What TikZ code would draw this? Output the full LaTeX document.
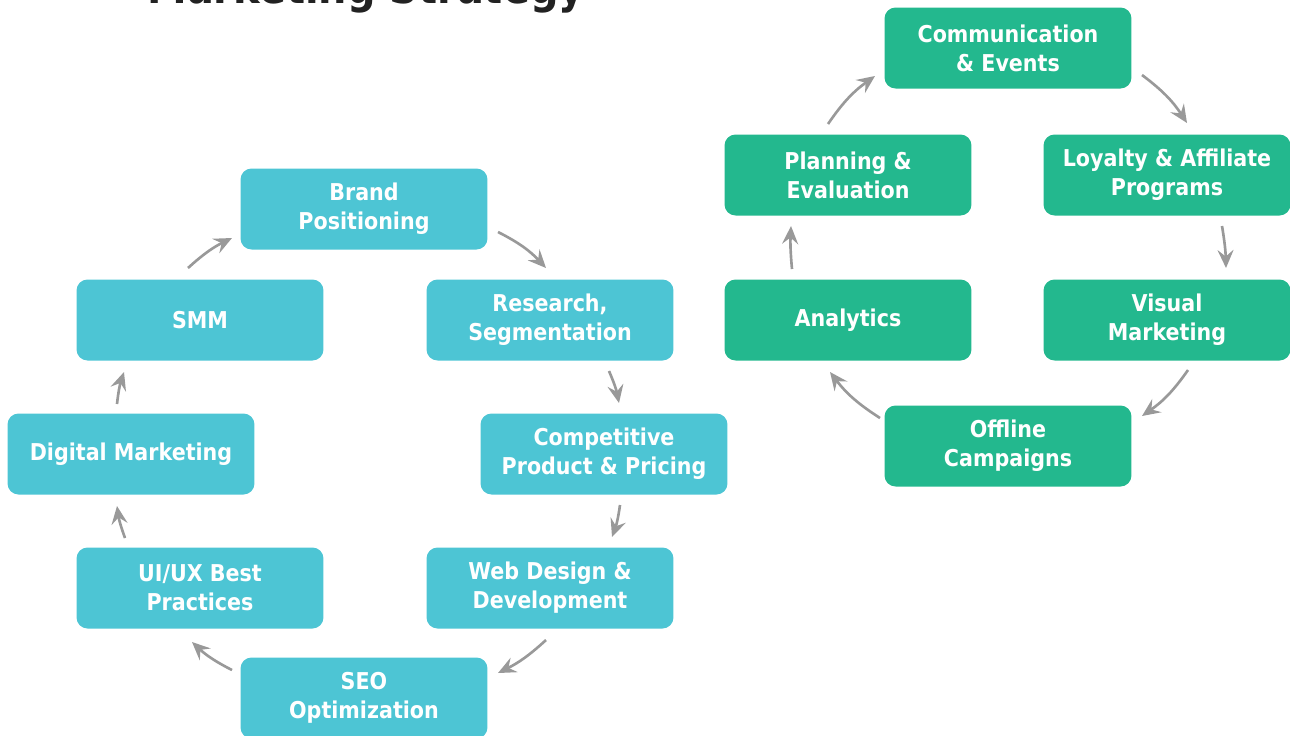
\documentclass[tikz,border=0pt]{standalone}
\usepackage{fontspec}
\setmainfont{DejaVu Sans}[FakeStretch=0.89]
\usetikzlibrary{arrows.meta}
\definecolor{channelcyan}{RGB}{77,197,212}
\definecolor{campaigngreen}{RGB}{35,184,142}
\definecolor{arrowgray}{RGB}{153,153,153}
\definecolor{titlegray}{RGB}{34,34,34}
\tikzset{
    channel/.style={rectangle, rounded corners=2.2mm, fill=channelcyan, text=white, minimum width=4.94cm, minimum height=1.62cm, align=center, font=\fontsize{13.2}{16.5}\selectfont\bfseries},
    campaign/.style={channel, fill=campaigngreen},
    arrow/.style={-{Stealth[length=3.6mm, width=3.2mm, inset=1.3mm]}, line width=1.5pt, arrowgray},
}

\begin{document}
\begin{tikzpicture}[x=0.02cm, y=-0.02cm]
    \useasboundingbox (0,0) rectangle (1290,735);
    \node[anchor=base, text=titlegray, font=\fontsize{25.5}{30}\selectfont\bfseries] (title) at (366,3) {Marketing Strategy};

    % left loop
    \node[channel] (brand) at (364,209) {Brand\\Positioning};
    \node[channel] (smm) at (200,320) {SMM};
    \node[channel] (research) at (550,320) {Research,\\Segmentation};
    \node[channel] (digital) at (131,454) {Digital Marketing};
    \node[channel] (competitive) at (604,454) {Competitive\\Product \& Pricing};
    \node[channel] (uiux) at (200,588) {UI/UX Best\\Practices};
    \node[channel] (web) at (550,588) {Web Design \&\\Development};
    \node[channel] (seo) at (364,698) {SEO\\Optimization};

    \draw[arrow] ([shift={(-12,-52)}]smm.center) to[bend left=8] ([shift={(-132,29)}]brand.center);
    \draw[arrow] ([shift={(134,23)}]brand.center) to[bend left=10] ([shift={(-4,-52)}]research.center);
    \draw[arrow] ([shift={(59,51)}]research.center) to[bend left=6] ([shift={(15,-51)}]competitive.center);
    \draw[arrow] ([shift={(16,51)}]competitive.center) to[bend left=6] ([shift={(62,-51)}]web.center);
    \draw[arrow] ([shift={(-4,52)}]web.center) to[bend left=8] ([shift={(134,-25)}]seo.center);
    \draw[arrow] ([shift={(-132,-28)}]seo.center) to[bend left=8] ([shift={(-8,54)}]uiux.center);
    \draw[arrow] ([shift={(-75,-50)}]uiux.center) to[bend left=6] ([shift={(-14,52)}]digital.center);
    \draw[arrow] ([shift={(-14,-50)}]digital.center) to[bend left=6] ([shift={(-76,52)}]smm.center);

    % right loop
    \node[campaign] (comm) at (1008,48) {Communication\\\& Events};
    \node[campaign] (planning) at (848,175) {Planning \&\\Evaluation};
    \node[campaign] (loyalty) at (1167,175) {Loyalty \& Affiliate\\Programs};
    \node[campaign] (analytics) at (848,320) {Analytics};
    \node[campaign] (visual) at (1167,320) {Visual\\Marketing};
    \node[campaign] (offline) at (1008,446) {Offline\\Campaigns};

    \draw[arrow] ([shift={(-20,-51)}]planning.center) to[bend left=10] ([shift={(-133,28)}]comm.center);
    \draw[arrow] ([shift={(134,27)}]comm.center) to[bend left=10] ([shift={(20,-52)}]loyalty.center);
    \draw[arrow] ([shift={(55,51)}]loyalty.center) to[bend left=4] ([shift={(59,-52)}]visual.center);
    \draw[arrow] ([shift={(21,50)}]visual.center) to[bend left=10] ([shift={(134,-30)}]offline.center);
    \draw[arrow] ([shift={(-128,-28)}]offline.center) to[bend left=10] ([shift={(-18,52)}]analytics.center);
    \draw[arrow] ([shift={(-56,-51)}]analytics.center) to[bend left=4] ([shift={(-57,51)}]planning.center);
\end{tikzpicture}
\end{document}
